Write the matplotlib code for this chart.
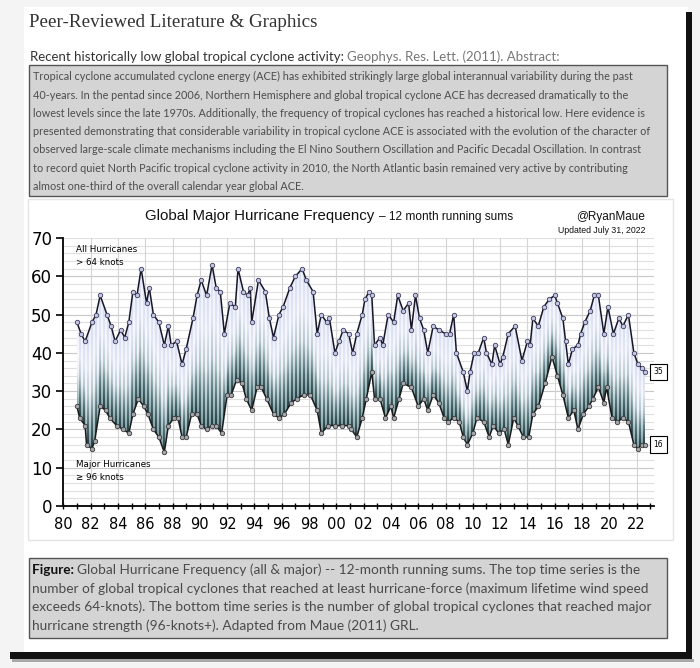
import matplotlib
matplotlib.use("Agg")
import matplotlib.pyplot as plt
import numpy as np
from matplotlib.patches import Rectangle
from matplotlib.colors import to_rgb

# 12-month running sums (year, count)
top_yr = [1981.0, 1981.3, 1981.6, 1982.1, 1982.4, 1982.7, 1983.2, 1983.5, 1983.8, 1984.2,
          1984.5, 1984.8, 1985.1, 1985.4, 1985.7, 1986.1, 1986.3, 1986.6, 1987.0, 1987.4,
          1987.7, 1987.9, 1988.3, 1988.7, 1989.0, 1989.5, 1989.8, 1990.1, 1990.5, 1990.9,
          1991.2, 1991.5, 1991.8, 1992.2, 1992.6, 1992.8, 1993.2, 1993.5, 1993.7, 1993.8,
          1994.3, 1994.8, 1995.1, 1995.4, 1995.8, 1996.1, 1996.6, 1997.0, 1997.5, 1997.8,
          1998.3, 1998.6, 1998.9, 1999.3, 1999.5, 1999.9, 2000.2, 2000.5, 2000.9, 2001.2,
          2001.5, 2001.9, 2002.1, 2002.4, 2002.6, 2002.8, 2003.2, 2003.4, 2003.8, 2004.2,
          2004.5, 2004.9, 2005.3, 2005.5, 2005.8, 2006.1, 2006.4, 2006.7, 2007.1, 2007.5,
          2008.0, 2008.3, 2008.6, 2008.8, 2009.3, 2009.6, 2009.8, 2010.1, 2010.4, 2010.8,
          2011.0, 2011.4, 2011.6, 2012.0, 2012.2, 2012.6, 2013.1, 2013.6, 2014.0, 2014.2,
          2014.4, 2014.8, 2015.2, 2015.6, 2016.0, 2016.2, 2016.6, 2016.8, 2017.0, 2017.3,
          2017.7, 2017.9, 2018.2, 2018.6, 2018.9, 2019.2, 2019.6, 2019.9, 2020.3, 2020.7,
          2021.0, 2021.4, 2021.8, 2022.1, 2022.4, 2022.6]
top_n = [48, 45, 43, 48, 50, 55, 50, 47, 43, 46,
         44, 48, 56, 55, 62, 53, 57, 50, 48, 42,
         47, 42, 43, 37, 41, 49, 55, 59, 55, 63,
         57, 56, 45, 53, 52, 62, 56, 55, 57, 48,
         59, 56, 49, 44, 50, 52, 57, 60, 62, 59,
         56, 45, 50, 48, 49, 40, 43, 46, 45, 40,
         45, 50, 54, 56, 55, 42, 44, 42, 50, 48,
         55, 51, 53, 46, 55, 49, 46, 40, 47, 46,
         45, 45, 50, 40, 35, 30, 35, 40, 40, 44,
         40, 37, 42, 37, 39, 45, 47, 38, 43, 42,
         49, 47, 52, 54, 55, 53, 49, 43, 37, 41,
         42, 45, 48, 51, 55, 55, 45, 52, 45, 49,
         47, 50, 40, 37, 36, 35]

bot_yr = [1981.0, 1981.2, 1981.6, 1981.7, 1982.1, 1982.3, 1982.7, 1983.1, 1983.4, 1983.9,
          1984.4, 1984.8, 1985.1, 1985.5, 1985.9, 1986.2, 1986.6, 1987.0, 1987.4, 1987.7,
          1988.1, 1988.4, 1988.7, 1989.0, 1989.4, 1989.8, 1990.1, 1990.5, 1990.9, 1991.2,
          1991.6, 1992.0, 1992.3, 1992.7, 1993.1, 1993.4, 1993.8, 1994.2, 1994.5, 1994.9,
          1995.4, 1995.8, 1996.2, 1996.7, 1997.1, 1997.6, 1998.1, 1998.6, 1998.9, 1999.4,
          1999.9, 2000.4, 2000.9, 2001.1, 2001.5, 2001.9, 2002.2, 2002.6, 2002.8, 2003.2,
          2003.6, 2004.0, 2004.2, 2004.6, 2004.9, 2005.5, 2006.0, 2006.4, 2006.7, 2007.1,
          2007.5, 2007.9, 2008.2, 2008.6, 2009.0, 2009.3, 2009.6, 2010.0, 2010.3, 2010.8,
          2011.2, 2011.5, 2011.9, 2012.3, 2012.6, 2013.0, 2013.3, 2013.7, 2014.1, 2014.4,
          2014.8, 2015.3, 2015.8, 2016.2, 2016.6, 2017.0, 2017.4, 2017.7, 2018.1, 2018.5,
          2018.8, 2019.2, 2019.6, 2019.8, 2020.2, 2020.6, 2021.0, 2021.4, 2021.8, 2022.1,
          2022.4, 2022.6]
bot_n = [26, 23, 21, 16, 15, 17, 26, 25, 23, 21,
         20, 19, 24, 28, 26, 24, 20, 18, 14, 21,
         23, 23, 18, 18, 24, 24, 21, 20, 21, 21,
         19, 29, 29, 33, 32, 28, 25, 31, 31, 28,
         24, 23, 24, 27, 28, 29, 29, 25, 19, 21,
         21, 21, 21, 20, 18, 23, 28, 35, 28, 28,
         23, 26, 23, 28, 32, 31, 26, 28, 25, 29,
         27, 23, 22, 23, 22, 18, 16, 19, 23, 22,
         18, 21, 19, 20, 16, 23, 21, 18, 18, 24,
         26, 32, 39, 34, 29, 23, 25, 20, 24, 26,
         28, 31, 27, 31, 23, 22, 23, 22, 16, 15,
         16, 16]

x_labels = ["80", "82", "84", "86", "88", "90", "92", "94", "96", "98", "00",
            "02", "04", "06", "08", "10", "12", "14", "16", "18", "20", "22"]
last_top, last_bot = 35, 16

abstract = [
    "Tropical cyclone accumulated cyclone energy (ACE) has exhibited strikingly large global interannual variability during the past",
    "40-years. In the pentad since 2006, Northern Hemisphere and global tropical cyclone ACE has decreased dramatically to the",
    "lowest levels since the late 1970s. Additionally, the frequency of tropical cyclones has reached a historical low. Here evidence is",
    "presented demonstrating that considerable variability in tropical cyclone ACE is associated with the evolution of the character of",
    "observed large-scale climate mechanisms including the El Nino Southern Oscillation and Pacific Decadal Oscillation. In contrast",
    "to record quiet North Pacific tropical cyclone activity in 2010, the North Atlantic basin remained very active by contributing",
    "almost one-third of the overall calendar year global ACE.",
]
caption = [
    "Global Hurricane Frequency (all & major) -- 12-month running sums. The top time series is the",
    "number of global tropical cyclones that reached at least hurricane-force (maximum lifetime wind speed",
    "exceeds 64-knots). The bottom time series is the number of global tropical cyclones that reached major",
    "hurricane strength (96-knots+). Adapted from Maue (2011) GRL.",
]

W, H = 700, 668
fig = plt.figure(figsize=(W / 100, H / 100), dpi=100, facecolor="#f4f4f4")
bg = fig.add_axes([0, 0, 1, 1])
bg.set_xlim(0, W)
bg.set_ylim(H, 0)
bg.axis("off")
r = fig.canvas.get_renderer()

def text_w(t):
    return t.get_window_extent(renderer=r).width

# page and its shadow
bg.add_patch(Rectangle((24, 7), 664, 646, fc="white", ec="none"))
bg.add_patch(Rectangle((686, 12), 6, 647, fc="#111111", ec="none"))
bg.add_patch(Rectangle((10, 652), 682, 7, fc="#111111", ec="none"))
bg.add_patch(Rectangle((12, 659), 682, 3, fc="#777777", ec="none", alpha=0.6))

bg.text(29, 27, "Peer-Reviewed Literature & Graphics", family="Liberation Serif",
        fontsize=13.7, color="#333333", va="baseline")
t1 = bg.text(30, 61, "Recent historically low global tropical cyclone activity: ",
             family="Lato", fontsize=9.55, color="#333333", va="baseline")
bg.text(30 + text_w(t1), 61, "Geophys. Res. Lett. (2011). Abstract:",
        family="Lato", fontsize=9.55, color="#777777", va="baseline")

bg.add_patch(Rectangle((29, 65), 638, 131, fc="#d4d4d4", ec="#555555", lw=1))
for i, line in enumerate(abstract):
    bg.text(33, 80.5 + i * 18.2, line, family="Lato", fontsize=7.8,
            color="#4d4d4d", va="baseline")

bg.add_patch(Rectangle((28, 199), 645, 341, fc="white", ec="#e4e4e4", lw=1))

bg.add_patch(Rectangle((29, 558), 638, 80, fc="#d4d4d4", ec="#555555", lw=1))
for i, line in enumerate(caption):
    x0 = 32
    if i == 0:
        tf = bg.text(x0, 574, "Figure: ", family="Lato", fontsize=9.8,
                     weight="bold", color="#111111", va="baseline")
        x0 += text_w(tf)
    bg.text(x0, 574 + i * 18.7, line, family="Lato", fontsize=9.8,
            color="#4a4a4a", va="baseline")

# chart titles
tt = bg.text(145, 220, "Global Major Hurricane Frequency", family="Liberation Sans",
             fontsize=10.8, color="#111111", va="baseline")
bg.text(145 + text_w(tt) + 5, 220, "\u2013 12 month running sums", family="Liberation Sans",
        fontsize=8.6, color="#111111", va="baseline")
bg.text(645, 220, "@RyanMaue", family="Liberation Sans", fontsize=8.5,
        color="#111111", ha="right", va="baseline")
bg.text(645, 233, "Updated July 31, 2022", family="Liberation Sans", fontsize=6.3,
        color="#111111", ha="right", va="baseline")

# chart axes: 1980 at x=63.3px, 13.65 px/yr; 0 at y=506px, 3.83 px/unit
x0px, x1px = 63.3, 63.3 + 43.3 * 13.65
ax = fig.add_axes([x0px / W, (H - 506) / H, (x1px - x0px) / W, 268 / H])
ax.set_xlim(1980, 2023.3)
ax.set_ylim(0, 70)
ax.patch.set_alpha(0)

for v in range(2, 70, 2):
    ax.axhline(v, color="#c8c8c8" if v % 10 == 0 else "#e0e0e0", lw=0.8, zorder=0)
ax.axhline(70, color="#e0e0e0", lw=0.8, zorder=0)
for yr in range(1982, 2024, 2):
    ax.axvline(yr, color="#d4d4d4", lw=0.8, zorder=0)

# striped gradient between the two series (shading only, dark at the bottom line)
xs = np.linspace(1980, 2023.3, 592)
vs = np.linspace(0, 70, 269)
top_i = np.interp(xs, top_yr, top_n)
bot_i = np.interp(xs, bot_yr, bot_n)
X, V = np.meshgrid(xs, vs)
inside = (X >= top_yr[0]) & (X <= top_yr[-1])
f = (V - bot_i[None, :]) / (top_i - bot_i)[None, :]
stops = [0.0, 0.2, 0.45, 0.7, 1.0]
stripe_c = [to_rgb(c) for c in ["#243f43", "#55747a", "#b8c8d0", "#e3e7f5", "#d9def3"]]
gap_c = [to_rgb(c) for c in ["#7c9ca0", "#b2c8cb", "#eff3f7", "#f7f8fd", "#eceffa"]]
img = np.zeros(V.shape + (4,))
stripe = (np.arange(len(xs)) % 4) < 2
fc = np.clip(f, 0, 1)
for k in range(3):
    s = np.interp(fc, stops, [c[k] for c in stripe_c])
    g = np.interp(fc, stops, [c[k] for c in gap_c])
    img[..., k] = np.where(stripe[None, :], s, g)
img[..., 3] = ((f >= 0) & (f <= 1) & inside).astype(float)
ax.imshow(img, origin="lower", extent=[1980, 2023.3, 0, 70], aspect="auto",
          interpolation="nearest", zorder=1)

ax.plot(bot_yr, bot_n, color="#1a1a1a", lw=1.1, marker="o", ms=3.2,
        mfc="#a4a7ad", mec="#3a3a3a", mew=0.6, zorder=3)
ax.plot(top_yr, top_n, color="#161628", lw=1.1, marker="o", ms=3.2,
        mfc="#c3c8e6", mec="#3c3c5a", mew=0.6, zorder=4)

for val in (last_top, last_bot):
    ax.annotate(str(val), xy=(2023.25, val), xycoords="data", fontsize=5.5,
                ha="left", va="center", annotation_clip=False,
                bbox=dict(boxstyle="square,pad=0.5", fc="white", ec="black", lw=0.8))

for s in ("top", "right"):
    ax.spines[s].set_visible(False)
for s in ("left", "bottom"):
    ax.spines[s].set_linewidth(1.3)
    ax.spines[s].set_color("black")
ax.set_yticks(range(0, 71, 10))
ax.set_xticks(range(1980, 2023, 2))
ax.set_xticklabels(x_labels)
ax.set_xticks(range(1980, 2024), minor=True)
ax.tick_params(axis="y", labelsize=12, length=5, width=1.2, pad=3)
ax.tick_params(axis="x", which="both", labelsize=10.5, length=4, width=1.0,
               direction="inout", pad=6)

ax.text(1980.9, 67, "All Hurricanes", fontsize=6.3, va="center")
ax.text(1980.9, 63.6, "> 64 knots", fontsize=6.3, va="center")
ax.text(1980.9, 10.9, "Major Hurricanes", fontsize=6.3, va="center")
ax.text(1980.9, 7.5, "\u2265 96 knots", fontsize=6.3, va="center")

fig.savefig("out.png", dpi=100, facecolor=fig.get_facecolor())
